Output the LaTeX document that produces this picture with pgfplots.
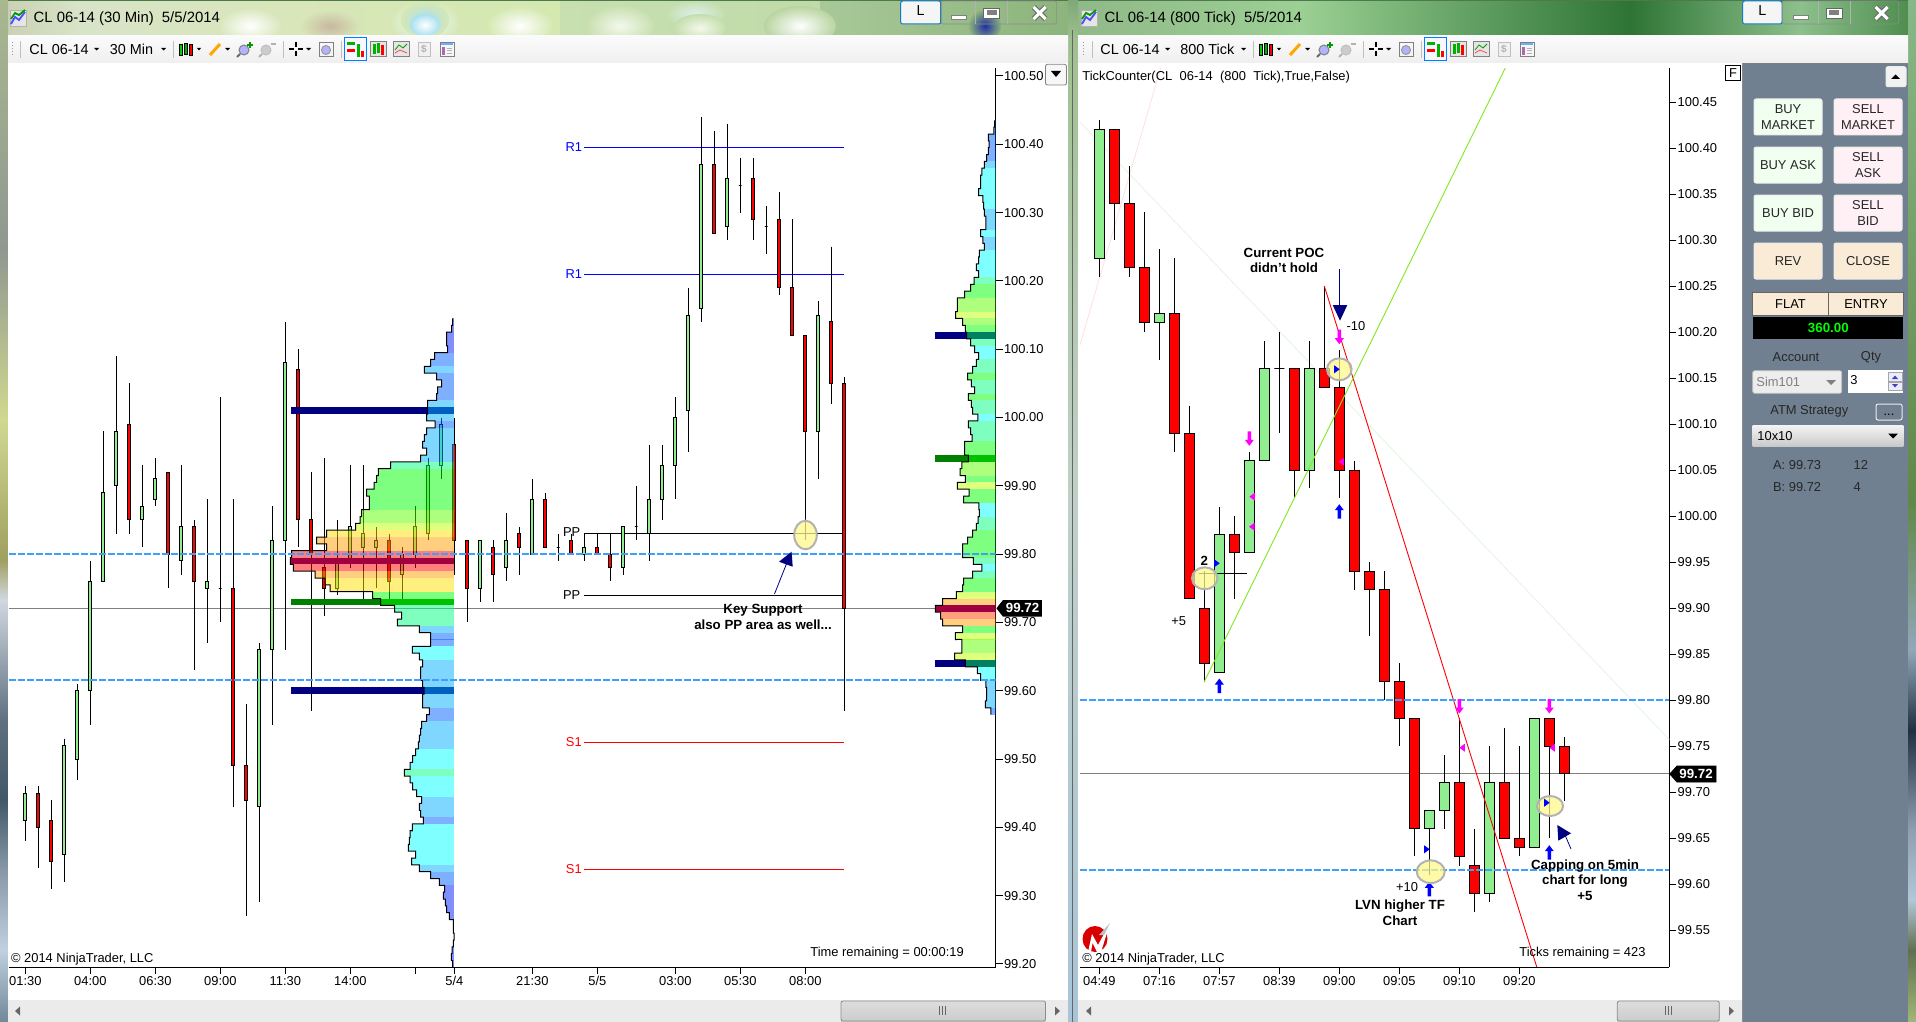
\documentclass[border=0pt]{standalone}
\usepackage{fontspec}
\setmainfont{Liberation Sans}
\usepackage{pgfplots}
\pgfplotsset{compat=1.18}
\newcommand\ft{\fontsize{6.45}{7.6}\selectfont}
\newcommand\ftb{\fontsize{6.65}{7.8}\selectfont\bfseries}
\newcommand\fti{\fontsize{7.2}{8.4}\selectfont}
\newcommand\ftt{\fontsize{7.45}{8.6}\selectfont}
\definecolor{cgreen}{HTML}{90EE90}
\definecolor{cred}{HTML}{FF0000}
\definecolor{pv}{HTML}{0020FF}\definecolor{pb}{HTML}{0060FF}\definecolor{pl}{HTML}{00B0FF}
\definecolor{pc}{HTML}{00FFFF}\definecolor{pt}{HTML}{00FF80}\definecolor{pg}{HTML}{00FF00}
\definecolor{ph}{HTML}{60FF00}\definecolor{py}{HTML}{C0FF00}\definecolor{pw}{HTML}{FFE000}
\definecolor{po}{HTML}{FFA000}\definecolor{ps}{HTML}{FF4000}\definecolor{pr}{HTML}{FF0000}
\definecolor{pocr}{HTML}{A00040}\definecolor{pocb}{HTML}{0060C0}\definecolor{pocg}{HTML}{00C000}\definecolor{pocd}{HTML}{008060}
\definecolor{navyb}{HTML}{000080}\definecolor{dgreen}{HTML}{008000}
\definecolor{dashc}{HTML}{3F9FFF}\definecolor{slate}{HTML}{708090}
\definecolor{bg}{HTML}{F0FFF0}\definecolor{bp}{HTML}{FFF0F5}\definecolor{bf}{HTML}{FAEBD7}
\definecolor{mag}{HTML}{FF00FF}\definecolor{lawn}{HTML}{80E820}
% candle: fill, index, bottom, top, high, low
\newcommand\Cn[6]{\pgfmathsetmacro\xc{\xo+\xs*#2}\pgfmathsetmacro\xa{\xc-\hw}\pgfmathsetmacro\xb{\xc+\hw}%
\edef\tmp{\noexpand\addplot[black,line width=.5pt] coordinates {(\xc,#5)(\xc,#6)};
\noexpand\addplot[fill=#1,draw=black,line width=.5pt] coordinates {(\xa,#3)(\xb,#3)(\xb,#4)(\xa,#4)} --cycle;}\tmp}
\newcommand\G[5]{\Cn{cgreen}{#1}{#3}{#2}{#4}{#5}}
\newcommand\Rd[5]{\Cn{cred}{#1}{#3}{#2}{#4}{#5}}
\newcommand\Dj[4]{\Cn{black}{#1}{#2}{#2}{#3}{#4}}
% profile rows: price, left edge as read, colour
\newcommand\Pf[3]{\pgfmathsetmacro\xl{\zo+#2/\zs}\pgfmathsetmacro\ya{#1-.005}\pgfmathsetmacro\yb{#1+.005}%
\edef\tmp{\noexpand\addplot[draw=none,fill=p#3,fill opacity=.5] coordinates {(\xl,\ya)(\pr,\ya)(\pr,\yb)(\xl,\yb)} --cycle;}\tmp
\xdef\outl{\outl(\xl,\yb)(\xl,\ya)}}
% special rows: price, left edge, row colour, bar start, bar colour
\newcommand\Po[5]{\pgfmathsetmacro\xl{\zo+#2/\zs}\pgfmathsetmacro\xst{\zo+#4/\zs}\pgfmathsetmacro\ya{#1-.005}\pgfmathsetmacro\yb{#1+.005}%
\edef\tmp{\noexpand\addplot[draw=none,fill=#3] coordinates {(\xl,\ya)(\pr,\ya)(\pr,\yb)(\xl,\yb)} --cycle;
\noexpand\addplot[draw=none,fill=#5] coordinates {(\xst,\ya)(\xl,\ya)(\xl,\yb)(\xst,\yb)} --cycle;}\tmp
\xdef\outl{\outl(\xl,\yb)(\xl,\ya)}}
\newcommand\Outline{\edef\tmp{\noexpand\addplot[black,line width=.5pt] coordinates {\outl};}\tmp\gdef\outl{}}
\gdef\outl{}
% chrome helpers
\newcommand\vs[6]{\definecolor{ca}{HTML}{#5}\definecolor{cb}{HTML}{#6}\shade[top color=ca,bottom color=cb] (#1,#3) rectangle (#2,#4);}
\newcommand\hs[6]{\definecolor{ca}{HTML}{#5}\definecolor{cb}{HTML}{#6}\shade[left color=ca,right color=cb] (#1,#3) rectangle (#2,#4);}
\newcommand\blob[6]{\definecolor{ca}{HTML}{#5}\definecolor{cb}{HTML}{#6}\shade[inner color=ca,outer color=cb] (#1,#2) ellipse (#3 and #4);}
\newcommand\Btn[6]{\filldraw[fill=#5,draw=white!85!gray,line width=.5pt,rounded corners=1pt] (#1,#2) rectangle (#3,#4);
\node[font=\ft,align=center,inner sep=0,text=black!85] at ({(#1+#3)/2},{(#2+#4)/2}) {#6};}
\newcommand\UpA[3]{\fill[#3,shift={(#1,#2)}] (0,-7.5)--(4.5,-1.5)--(1.8,-1.5)--(1.8,7)--(-1.8,7)--(-1.8,-1.5)--(-4.5,-1.5)--cycle;}
\newcommand\DnA[3]{\fill[#3,shift={(#1,#2)}] (0,7.5)--(4.5,1.5)--(1.8,1.5)--(1.8,-7)--(-1.8,-7)--(-1.8,1.5)--(-4.5,1.5)--cycle;}
\newcommand\TrR[2]{\fill[blue,shift={(#1,#2)}] (-2.5,-4)--(3,0)--(-2.5,4)--cycle;}
\newcommand\TrL[2]{\fill[mag,shift={(#1,#2)}] (2.5,-4)--(-3,0)--(2.5,4)--cycle;}
\newcommand\Circ[4]{\filldraw[shift={(#1,#2)},fill=yellow!45!white,fill opacity=.75,draw=black!30,line width=1pt] (0,0) ellipse (#3 and #4);}
\newcommand\Tool[1]{\begin{scope}[shift={(#1,0)}]
\foreach \yy in {42,45,48,51,54} \fill[black!40] (12,\yy) rectangle (13,\yy+1.5);
\end{scope}}
\newcommand\Icons[1]{\begin{scope}[shift={(#1,0)}]
\draw[black!25,line width=.5pt] (173.7,41)--(173.7,58) (283.5,41)--(283.5,58) (341.5,41)--(341.5,58);
\filldraw[fill=green!80!black,draw=black,line width=.3pt] (179,44) rectangle (182.5,55);
\filldraw[fill=green!70!black,draw=black,line width=.3pt] (184,43) rectangle (187,54);
\filldraw[fill=red,draw=black,line width=.3pt] (189,44) rectangle (192.5,55);
\fill[black] (197,48)--(201,48)--(199,50.5)--cycle;
\draw[orange!70!yellow,line width=1.5pt] (210,55)--(220,44);
\fill[black] (225,48)--(230,48)--(227.5,50.5)--cycle;
\filldraw[fill=blue!30,draw=black!50,line width=.5pt] (244,50) circle (5); \draw[black!60,line width=1pt] (240,54)--(237,57);
\draw[green!60!black,line width=1pt] (247,45)--(253,45) (250,42)--(250,48);
\filldraw[fill=black!20,draw=black!25,line width=.5pt] (266,50) circle (5); \draw[black!30,line width=1pt] (262,54)--(259,57);
\draw[black!30,line width=1pt] (271,44)--(276,44);
\draw[black,line width=1pt] (289,49.5)--(294,49.5) (298,49.5)--(303,49.5) (296,42.5)--(296,47.5) (296,51.5)--(296,56.5);
\fill[black] (306,48)--(311,48)--(308.5,50.5)--cycle;
\draw[black!50,line width=.4pt] (319,42) rectangle (333,56);
\filldraw[fill=blue!30,draw=black!40,line width=.5pt] (326,50) circle (4.5);
\filldraw[fill=blue!3,draw=blue!50!cyan,line width=.6pt] (344.6,37.3) rectangle (366.7,60.7);
\fill[green!70!black] (347,42) rectangle (355,45); \fill[red] (347,49) rectangle (355,52); \fill[green!70!black] (357,44) rectangle (360,57); \fill[red] (361,51) rectangle (364,57);
\filldraw[fill=black!10,draw=black!50,line width=.4pt] (370.5,41.5) rectangle (386,56.5);
\fill[green!70!black] (373,44) rectangle (375.5,54); \fill[green!70!black] (377,43) rectangle (379.5,53); \fill[red] (381,45) rectangle (383.5,55);
\filldraw[fill=black!10,draw=black!50,line width=.4pt] (393,41.5) rectangle (409,56.5);
\draw[green!60!black,line width=.4pt] (395,50)--(399,45)--(403,48)--(407,44); \draw[red!70,line width=.4pt] (395,53)--(400,50)--(407,53);
\filldraw[fill=black!6,draw=black!25,line width=.4pt] (418,42) rectangle (430,56);
\node[font=\fontsize{5}{5}\selectfont\bfseries,text=black!30,inner sep=0] at (424,49) {\$};
\filldraw[fill=black!3,draw=black!50,line width=.4pt] (440,42) rectangle (454,56);
\fill[blue!50!cyan!60] (441,43) rectangle (453,45.5); \fill[violet!60] (442,47) rectangle (445,55);
\draw[black!30,line width=.3pt] (447,48)--(452,48) (447,50.5)--(452,50.5) (447,53)--(452,53);
\end{scope}}
\newcommand\WinIcon[1]{\begin{scope}[shift={(#1,0)}]
\filldraw[fill=black!10,draw=black!30,line width=.4pt] (10,10) rectangle (26,26);
\draw[blue!70,line width=.9pt] (11,24)--(15,17)--(19,20)--(25,12);
\draw[green!60!black,line width=.9pt] (11,19)--(15,13)--(19,15)--(25,10);
\end{scope}}
\newcommand\Ctrls[5]{% L x1, L x2, min x, max x, close x
\filldraw[fill=black!4,draw=cyan!60!blue,line width=.5pt,rounded corners=1pt] (#1,1) rectangle (#2,24);
\node[font=\fti,inner sep=0] at ({(#1+#2)/2},11) {L};
\draw[black!45,line width=.3pt,rounded corners=1pt] (#2+.5,1) rectangle (#5+17,24);
\draw[black!30,line width=.3pt] ({#4-8},1)--({#4-8},24) ({#4+24},1)--({#4+24},24);
\filldraw[fill=white,draw=black!50,line width=.3pt] (#3,15.5) rectangle (#3+15,19);
\filldraw[fill=white,draw=black!60,line width=.4pt] (#4,8) rectangle (#4+16,18);
\fill[black!50] (#4+3,10.5) rectangle (#4+13,15.5);
\draw[black!60,line width=2.6pt] (#5-6,7)--(#5+6,19) (#5-6,19)--(#5+6,7);
\draw[white,line width=1.6pt] (#5-6,7)--(#5+6,19) (#5-6,19)--(#5+6,7);
}
\begin{document}
\begin{tikzpicture}[x=.5pt,y=-.5pt]
\useasboundingbox (0,0) rectangle (1916,1022);
\begin{scope}
\clip (0,0) rectangle (1916,1022);
% --- window frames
\fill[white] (0,0) rectangle (1916,1022);
\hs{0}{80}{0}{36}{C8D0B0}{D8E4C8}\hs{80}{300}{0}{36}{D8E4C8}{D8E6B8}\hs{300}{560}{0}{36}{D8E6B8}{D4E8B0}\hs{560}{820}{0}{36}{C8E0B0}{C0DAA8}\hs{820}{1070}{0}{36}{A8C898}{8CB47C}
\begin{scope}
\clip (0,0) rectangle (1070,35);
\blob{250}{26}{32}{18}{FFFFFF}{D8E6BC}
\blob{330}{26}{30}{16}{C8B8A0}{D8E6B8}
\blob{425}{22}{36}{22}{E8FFFF}{D6E7B4}
\blob{425}{20}{24}{18}{A8E0F0}{D6E7B4}
\blob{425}{25}{15}{11}{FFFFFF}{A8E0F0}
\blob{520}{26}{34}{20}{FFFFFF}{D4E8B0}
\blob{620}{26}{34}{20}{F4F8EC}{C8E0B0}
\blob{695}{14}{30}{14}{DCF0EC}{C4DEAC}
\blob{700}{28}{26}{14}{F4F8EC}{C4DEAC}
\blob{800}{26}{36}{20}{FFFFFF}{B8D4A0}
\blob{985}{26}{16}{16}{2030A0}{8CB47C}
\end{scope}
\hs{1070}{1300}{0}{36}{90B888}{9CD094}\hs{1300}{1500}{0}{36}{9CD094}{58985A}\hs{1500}{1630}{0}{36}{58985A}{2E7434}\hs{1630}{1800}{0}{36}{2E7434}{8CC08C}\hs{1800}{1916}{0}{36}{8CC08C}{4A8A4A}
\fill[black!55!green!40!gray] (0,0) rectangle (1916,1.2);
\vs{0}{8}{0}{250}{A8B890}{909890}\vs{0}{8}{250}{420}{909890}{D0D890}\vs{0}{8}{420}{560}{D0D890}{A0A060}\vs{0}{8}{560}{600}{A0A060}{D0D8E0}\vs{0}{8}{600}{720}{D0D8E0}{607080}\vs{0}{8}{720}{800}{607080}{405868}\vs{0}{8}{800}{870}{405868}{8898A8}\vs{0}{8}{870}{950}{8898A8}{C0D0E0}\vs{0}{8}{950}{1022}{C0D0E0}{708898}
\vs{1068}{1078}{0}{40}{7FA878}{A0C090}\vs{1068}{1078}{40}{500}{A0C090}{C0D0C8}\vs{1068}{1078}{500}{1022}{C0D0C8}{A8C4D8}
\fill[black!60] (1072.2,30) rectangle (1073,1022);
\vs{1908}{1916}{0}{500}{88B888}{608848}\vs{1908}{1916}{500}{650}{608848}{90A8B8}\vs{1908}{1916}{650}{730}{90A8B8}{203040}\vs{1908}{1916}{730}{830}{203040}{90A0B0}\vs{1908}{1916}{830}{900}{90A0B0}{B0C8D8}\vs{1908}{1916}{900}{950}{B0C8D8}{607050}\vs{1908}{1916}{950}{1022}{607050}{A0B878}
% white content
\fill[white] (8,35) rectangle (1068,1022);
\fill[white] (1078,35) rectangle (1908,1022);
\draw[black!55,line width=.4pt] (7.5,35)--(1068,35) (1078,35)--(1908,35);
\vs{8}{1068}{35.5}{63}{FBFBFB}{EFEFEF}\vs{1078}{1908}{35.5}{63}{FBFBFB}{EFEFEF}
\fill[black!8] (8,1000) rectangle (1068,1022);\fill[black!8] (1078,1000) rectangle (1742,1022);
\vs{841}{1045.5}{1001}{1021}{DDDDDD}{CCCCCC}\draw[black!45,line width=.4pt,rounded corners=1pt] (841,1001) rectangle (1045.5,1021);
\vs{1617.3}{1719.3}{1001}{1021}{DDDDDD}{CCCCCC}\draw[black!45,line width=.4pt,rounded corners=1pt] (1617.3,1001) rectangle (1719.3,1021);
\draw[black!60,line width=.5pt] (939,1006)--(939,1015) (942,1006)--(942,1015) (945,1006)--(945,1015) (1665,1006)--(1665,1015) (1668,1006)--(1668,1015) (1671,1006)--(1671,1015);
\fill[black!60] (15,1011)--(20,1006.5)--(20,1015.5)--cycle;
\fill[black!60] (1086,1011)--(1091,1006.5)--(1091,1015.5)--cycle;
\fill[black!60] (1060,1011)--(1055,1006.5)--(1055,1015.5)--cycle;
\fill[black!60] (1734,1011)--(1729,1006.5)--(1729,1015.5)--cycle;
% toolbars
\Tool{0}\Tool{1071}
\draw[black!25,line width=.5pt] (20.7,41)--(20.7,58) (1092,41)--(1092,58);
\node[font=\fti,anchor=west,inner sep=0] at (29,49.5) {CL 06-14};
\fill[black] (94,48)--(99,48)--(96.5,50.5)--cycle;
\node[font=\fti,anchor=west,inner sep=0] at (109.5,49.5) {30 Min};
\fill[black] (161,48)--(166,48)--(163.5,50.5)--cycle;
\node[font=\fti,anchor=west,inner sep=0] at (1100,49.5) {CL 06-14};
\fill[black] (1165,48)--(1170,48)--(1167.5,50.5)--cycle;
\node[font=\fti,anchor=west,inner sep=0] at (1180,49.5) {800 Tick};
\fill[black] (1241,48)--(1246,48)--(1243.5,50.5)--cycle;
\Icons{0}\Icons{1080}
\WinIcon{0}\WinIcon{1071}
\node[font=\ftt,anchor=west,inner sep=0] at (33.3,19) {CL 06-14 (30 Min)\hspace{.55em}5/5/2014};
\node[font=\ftt,anchor=west,inner sep=0] at (1104.3,19) {CL 06-14 (800 Tick)\hspace{.55em}5/5/2014};
\Ctrls{900.7}{940.7}{951.6}{983.6}{1039.6}
\Ctrls{1742.7}{1782}{1793.5}{1826}{1881.7}
% right panel
\fill[black!45] (1742,63) rectangle (1743,1022);
\fill[slate] (1743,63.5) rectangle (1908,1022);
\draw[black!50,line width=.4pt] (1743,63.5)--(1908,63.5);
\Btn{1886}{66.7}{1906}{86.7}{black!5}{}
\fill[black] (1891,79)--(1900,79)--(1895.5,74.5)--cycle;
\Btn{1754}{99}{1822}{135}{bg}{BUY\\MARKET}\Btn{1834}{99}{1902}{135}{bp}{SELL\\MARKET}
\Btn{1754}{147}{1822}{183}{bg}{BUY ASK}\Btn{1834}{147}{1902}{183}{bp}{SELL\\ASK}
\Btn{1754}{195}{1822}{231}{bg}{BUY BID}\Btn{1834}{195}{1902}{231}{bp}{SELL\\BID}
\Btn{1754}{243}{1822}{279}{bf}{REV}\Btn{1834}{243}{1902}{279}{bf}{CLOSE}
\filldraw[fill=bf,draw=black!60,line width=.3pt] (1752.7,292.7) rectangle (1828.3,315);
\filldraw[fill=bf,draw=black!60,line width=.3pt] (1828.3,292.7) rectangle (1903.3,315);
\node[font=\ft,inner sep=0] at (1790.5,304) {FLAT};\node[font=\ft,inner sep=0] at (1866,304) {ENTRY};
\fill[black] (1752.7,316.7) rectangle (1903.3,339.3);
\node[font=\ftb,text=green,inner sep=0] at (1828.3,328) {360.00};
\node[font=\ft,inner sep=0,text=black!85] at (1796,357.3) {Account};\node[font=\ft,inner sep=0,text=black!85] at (1871,357.3) {Qty};
\filldraw[fill=black!7,draw=black!25,line width=.4pt,rounded corners=1pt] (1752.7,370.7) rectangle (1841.7,393.3);
\node[font=\ft,anchor=west,inner sep=0,text=black!50] at (1756,382) {Sim101};
\fill[black!50] (1826,380)--(1836,380)--(1831,385)--cycle;
\fill[white] (1848.3,370) rectangle (1903.3,392.7);
\node[font=\ft,anchor=west,inner sep=0] at (1850,380) {3};
\filldraw[fill=blue!8,draw=black!35,line width=.3pt] (1888,372.5) rectangle (1902,381);\filldraw[fill=blue!8,draw=black!35,line width=.3pt] (1888,382) rectangle (1902,390.5);
\fill[blue!50!gray] (1892,379)--(1898,379)--(1895,375.5)--cycle;\fill[blue!50!gray] (1892,384)--(1898,384)--(1895,387.5)--cycle;
\node[font=\ft,inner sep=0,text=black!85] at (1809.3,411.3) {ATM Strategy};
\filldraw[fill=slate,draw=white!85!gray,line width=.5pt,rounded corners=1pt] (1876,404) rectangle (1902,420);
\node[font=\ft,inner sep=0] at (1889,415) {...};
\vs{1752.7}{1903.3}{425}{446.7}{F4F4F4}{C8C8C8}
\node[font=\ft,anchor=west,inner sep=0] at (1757,436) {10x10};
\fill[black] (1888,433.5)--(1898,433.5)--(1893,438.5)--cycle;
\node[font=\ft,anchor=west,inner sep=0,text=black!85] at (1772.7,465) {A: 99.73};\node[font=\ft,anchor=west,inner sep=0,text=black!85] at (1853.3,465) {12};
\node[font=\ft,anchor=west,inner sep=0,text=black!85] at (1772.7,487.3) {B: 99.72};\node[font=\ft,anchor=west,inner sep=0,text=black!85] at (1853.3,487.3) {4};
\end{scope}

% ===================== LEFT CHART
\begin{axis}[name=lft,at={(4.5pt,-483.5pt)},anchor=south west,scale only axis,width=493.3pt,height=449.5pt,
 xmin=9,xmax=995.6,ymin=99.1955,ymax=100.5117,
 axis x line*=bottom,axis y line*=right,axis line style={line width=.5pt},
 tick align=outside,major tick length=3.5pt,tick style={black,line width=.5pt},
 xtick={25.3,90.3,155.3,220.3,285.3,350.3,415.3,454.3,532.3,597.3,675.3,740.3,805.3},
 xticklabels={01:30,04:00,06:30,09:00,11:30,14:00,,5/4,21:30,5/5,03:00,05:30,08:00},
 ytick={99.2,99.3,99.4,99.5,99.6,99.7,99.8,99.9,100,100.1,100.2,100.3,100.4,100.5},
 yticklabel style={/pgf/number format/.cd,fixed,fixed zerofill,precision=2,assume math mode=true,1000 sep={}},
 every tick label/.append style={font=\ft,inner sep=.5pt},
 xticklabel style={yshift=-.5pt},
]
\def\xo{25.3}\def\xs{13}\def\hw{1.4}
\addplot[black!50,line width=.5pt] coordinates {(9,99.72)(995.6,99.72)};
\addplot[blue,line width=.5pt] coordinates {(584,100.395)(844,100.395)};
\addplot[blue,line width=.5pt] coordinates {(584,100.21)(844,100.21)};
\addplot[black,line width=.5pt] coordinates {(584,99.83)(844,99.83)};
\addplot[black,line width=.5pt] coordinates {(584,99.739)(844,99.739)};
\addplot[red,line width=.5pt] coordinates {(584,99.524)(844,99.524)};
\addplot[red,line width=.5pt] coordinates {(584,99.338)(844,99.338)};
\G{0}{99.45}{99.41}{99.46}{99.38}
\Rd{1}{99.45}{99.40}{99.46}{99.34}
\Rd{2}{99.41}{99.35}{99.44}{99.31}
\G{3}{99.52}{99.36}{99.53}{99.32}
\G{4}{99.60}{99.50}{99.61}{99.47}
\G{5}{99.76}{99.60}{99.79}{99.55}
\G{6}{99.89}{99.76}{99.98}{99.76}
\G{7}{99.98}{99.90}{100.09}{99.83}
\Rd{8}{99.99}{99.85}{100.05}{99.83}
\G{9}{99.87}{99.85}{99.93}{99.81}
\G{10}{99.91}{99.88}{99.94}{99.87}
\Rd{11}{99.92}{99.80}{99.92}{99.75}
\G{12}{99.84}{99.79}{99.93}{99.77}
\Rd{13}{99.84}{99.76}{99.85}{99.63}
\G{14}{99.76}{99.75}{99.88}{99.67}
\Dj{15}{99.75}{100.03}{99.70}
\Rd{16}{99.75}{99.49}{99.88}{99.43}
\Rd{17}{99.49}{99.44}{99.58}{99.27}
\G{18}{99.66}{99.43}{99.67}{99.29}
\G{19}{99.82}{99.66}{99.87}{99.55}
\G{20}{100.08}{99.82}{100.14}{99.66}
\Rd{21}{100.07}{99.85}{100.10}{99.81}
\Rd{22}{99.85}{99.80}{99.92}{99.57}
\Rd{23}{99.78}{99.75}{99.94}{99.71}
\G{24}{99.79}{99.75}{99.85}{99.74}
\G{25}{99.84}{99.79}{99.93}{99.78}
\G{26}{99.83}{99.81}{99.93}{99.73}
\G{27}{99.82}{99.81}{99.84}{99.75}
\Rd{28}{99.82}{99.76}{99.83}{99.73}
\G{29}{99.80}{99.77}{99.81}{99.73}
\G{30}{99.84}{99.80}{99.87}{99.78}
\G{31}{99.93}{99.83}{99.94}{99.82}
\G{32}{99.99}{99.93}{100.00}{99.91}
\Rd{33}{99.96}{99.82}{100.00}{99.77}
\Rd{34}{99.82}{99.75}{99.82}{99.70}
\G{35}{99.82}{99.75}{99.82}{99.73}
\Rd{36}{99.81}{99.77}{99.82}{99.73}
\G{37}{99.82}{99.78}{99.86}{99.76}
\Rd{38}{99.83}{99.81}{99.84}{99.77}
\G{39}{99.88}{99.80}{99.91}{99.80}
\Rd{40}{99.88}{99.81}{99.89}{99.81}
\Dj{41}{99.81}{99.83}{99.79}
\Rd{42}{99.82}{99.80}{99.83}{99.80}
\G{43}{99.81}{99.80}{99.83}{99.79}
\Rd{44}{99.81}{99.80}{99.83}{99.80}
\Rd{45}{99.80}{99.78}{99.83}{99.76}
\G{46}{99.84}{99.78}{99.84}{99.77}
\Dj{47}{99.84}{99.90}{99.82}
\G{48}{99.88}{99.83}{99.96}{99.79}
\G{49}{99.93}{99.88}{99.96}{99.85}
\G{50}{100.00}{99.93}{100.03}{99.88}
\G{51}{100.15}{100.01}{100.19}{99.95}
\G{52}{100.37}{100.16}{100.44}{100.14}
\Rd{53}{100.37}{100.27}{100.42}{100.27}
\G{54}{100.35}{100.28}{100.43}{100.26}
\Dj{55}{100.34}{100.38}{100.30}
\Rd{56}{100.35}{100.29}{100.38}{100.26}
\Dj{57}{100.28}{100.31}{100.24}
\Rd{58}{100.29}{100.19}{100.33}{100.18}
\Rd{59}{100.19}{100.12}{100.29}{100.12}
\Rd{60}{100.12}{99.98}{100.12}{99.82}
\G{61}{100.15}{99.98}{100.17}{99.91}
\Rd{62}{100.14}{100.05}{100.25}{100.02}
\Rd{63}{100.05}{99.72}{100.06}{99.57}
% session volume profile
\def\zo{0}\def\zs{3}\def\pr{454}
\Pf{100.14}{1358}{v}\Pf{100.13}{1355}{v}\Pf{100.12}{1340}{v}\Pf{100.11}{1340}{v}\Pf{100.10}{1343}{v}
\Pf{100.09}{1304}{b}\Pf{100.08}{1292}{b}\Pf{100.07}{1273}{l}\Pf{100.06}{1310}{b}\Pf{100.05}{1325}{b}
\Pf{100.04}{1313}{b}\Pf{100.03}{1310}{b}\Pf{100.02}{1283}{l}
\Po{100.01}{1283}{pocb}{873}{navyb}
\Pf{100.00}{1280}{l}\Pf{99.99}{1305}{b}\Pf{99.98}{1280}{l}\Pf{99.97}{1273}{l}\Pf{99.96}{1268}{l}\Pf{99.95}{1280}{l}\Pf{99.94}{1262}{l}
\Pf{99.93}{1172}{t}\Pf{99.92}{1135}{g}\Pf{99.91}{1130}{g}\Pf{99.90}{1122}{g}\Pf{99.89}{1100}{g}\Pf{99.88}{1108}{g}\Pf{99.87}{1108}{g}
\Pf{99.86}{1085}{h}\Pf{99.85}{1080}{h}\Pf{99.84}{1067}{y}\Pf{99.83}{980}{w}\Pf{99.82}{950}{o}\Pf{99.81}{980}{o}\Pf{99.80}{875}{r}
\Po{99.79}{871}{pocr}{871}{pocr}
\Pf{99.78}{880}{r}\Pf{99.77}{945}{o}\Pf{99.76}{975}{w}\Pf{99.75}{990}{w}\Pf{99.74}{1118}{g}
\Po{99.73}{1142}{pocg}{873}{dgreen}
\Pf{99.72}{1184}{t}\Pf{99.71}{1205}{t}\Pf{99.70}{1192}{t}\Pf{99.69}{1258}{l}\Pf{99.68}{1292}{b}\Pf{99.67}{1292}{b}
\Pf{99.66}{1237}{c}\Pf{99.65}{1258}{c}\Pf{99.64}{1268}{l}\Pf{99.63}{1262}{l}\Pf{99.62}{1262}{l}\Pf{99.61}{1268}{l}
\Po{99.60}{1272}{pocb}{873}{navyb}
\Pf{99.59}{1268}{l}\Pf{99.58}{1268}{l}\Pf{99.57}{1288}{b}\Pf{99.56}{1280}{b}\Pf{99.55}{1265}{l}\Pf{99.54}{1262}{l}\Pf{99.53}{1258}{l}\Pf{99.52}{1255}{l}
\Pf{99.51}{1247}{c}\Pf{99.50}{1238}{c}\Pf{99.49}{1230}{c}\Pf{99.48}{1213}{t}\Pf{99.47}{1230}{c}\Pf{99.46}{1238}{c}\Pf{99.45}{1250}{c}
\Pf{99.44}{1265}{l}\Pf{99.43}{1258}{l}\Pf{99.42}{1262}{l}\Pf{99.41}{1270}{b}
\Pf{99.40}{1237}{c}\Pf{99.39}{1230}{c}\Pf{99.38}{1228}{c}\Pf{99.37}{1225}{c}\Pf{99.36}{1247}{c}\Pf{99.35}{1235}{c}\Pf{99.34}{1258}{l}
\Pf{99.33}{1292}{b}\Pf{99.32}{1318}{b}\Pf{99.31}{1334}{v}\Pf{99.30}{1330}{v}\Pf{99.29}{1336}{v}\Pf{99.28}{1340}{v}\Pf{99.27}{1348}{v}
\Pf{99.26}{1360}{v}\Pf{99.25}{1360}{v}\Pf{99.24}{1362}{v}\Pf{99.23}{1360}{v}\Pf{99.22}{1356}{v}\Pf{99.21}{1354}{v}\Pf{99.20}{1358}{v}
\Outline
% current session profile
\def\zo{500}\def\zs{2.75}\def\pr{995.6}
\Pf{100.43}{1360}{b}\Pf{100.42}{1358}{b}\Pf{100.41}{1343}{b}\Pf{100.40}{1345}{b}\Pf{100.39}{1343}{b}\Pf{100.38}{1338}{b}\Pf{100.37}{1332}{l}
\Pf{100.36}{1325}{c}\Pf{100.35}{1322}{c}\Pf{100.34}{1322}{c}\Pf{100.33}{1316}{c}\Pf{100.32}{1328}{c}\Pf{100.31}{1330}{c}
\Pf{100.30}{1332}{l}\Pf{100.29}{1336}{l}\Pf{100.28}{1336}{l}\Pf{100.27}{1322}{c}\Pf{100.26}{1328}{l}\Pf{100.25}{1332}{l}
\Pf{100.24}{1318}{c}\Pf{100.23}{1316}{c}\Pf{100.22}{1310}{c}\Pf{100.21}{1316}{c}\Pf{100.20}{1304}{t}\Pf{100.19}{1294}{g}\Pf{100.18}{1278}{g}
\Pf{100.17}{1258}{h}\Pf{100.16}{1258}{h}\Pf{100.15}{1253}{y}\Pf{100.14}{1272}{h}\Pf{100.13}{1280}{g}
\Po{100.12}{1283}{pocd}{1197}{navyb}
\Pf{100.11}{1294}{t}\Pf{100.10}{1305}{c}\Pf{100.09}{1316}{c}\Pf{100.08}{1310}{t}\Pf{100.07}{1300}{t}\Pf{100.06}{1286}{g}\Pf{100.05}{1296}{t}\Pf{100.04}{1305}{t}
\Pf{100.03}{1288}{g}\Pf{100.02}{1296}{t}\Pf{100.01}{1300}{t}\Pf{100.00}{1314}{c}\Pf{99.99}{1288}{t}\Pf{99.98}{1294}{t}\Pf{99.97}{1298}{t}\Pf{99.96}{1278}{g}\Pf{99.95}{1278}{g}
\Po{99.94}{1288}{pocg}{1197}{dgreen}
\Pf{99.93}{1270}{h}\Pf{99.92}{1265}{h}\Pf{99.91}{1280}{g}\Pf{99.90}{1258}{y}\Pf{99.89}{1290}{g}\Pf{99.88}{1275}{g}
\Pf{99.87}{1317}{c}\Pf{99.86}{1318}{c}\Pf{99.85}{1315}{t}\Pf{99.84}{1310}{t}\Pf{99.83}{1300}{g}\Pf{99.82}{1286}{g}\Pf{99.81}{1272}{g}\Pf{99.80}{1272}{g}
\Pf{99.79}{1302}{t}\Pf{99.78}{1325}{c}\Pf{99.77}{1300}{t}\Pf{99.76}{1275}{g}\Pf{99.75}{1272}{g}\Pf{99.74}{1255}{y}\Pf{99.73}{1217}{o}
\Po{99.72}{1197}{pocr}{1197}{pocr}
\Pf{99.71}{1212}{s}\Pf{99.70}{1217}{o}\Pf{99.69}{1272}{g}\Pf{99.68}{1252}{y}\Pf{99.67}{1270}{h}\Pf{99.66}{1270}{h}\Pf{99.65}{1250}{y}
\Po{99.64}{1280}{pocd}{1197}{navyb}
\Pf{99.63}{1313}{c}\Pf{99.62}{1322}{c}\Pf{99.61}{1336}{l}\Pf{99.60}{1338}{l}\Pf{99.59}{1338}{l}\Pf{99.58}{1335}{l}\Pf{99.57}{1350}{b}
\Outline
\addplot[dashc,line width=1pt,dash pattern=on 3.5pt off 1pt] coordinates {(9,99.80)(995.6,99.80)};
\addplot[dashc,line width=1pt,dash pattern=on 3.5pt off 1pt] coordinates {(9,99.616)(995.6,99.616)};
\end{axis}

% ===================== RIGHT CHART
\begin{axis}[name=rgt,at={(540pt,-483.5pt)},anchor=south west,scale only axis,width=294.65pt,height=449.5pt,
 xmin=1080,xmax=1669.3,ymin=99.5098,ymax=100.487,
 axis x line*=bottom,axis y line*=right,axis line style={line width=.5pt},
 tick align=outside,major tick length=3.5pt,tick style={black,line width=.5pt},
 xtick={1099.3,1159.3,1219.3,1279.3,1339.3,1399.3,1459.3,1519.3},
 xticklabels={04:49,07:16,07:57,08:39,09:00,09:05,09:10,09:20},
 ytick={99.55,99.6,99.65,99.7,99.75,99.8,99.85,99.9,99.95,100,100.05,100.1,100.15,100.2,100.25,100.3,100.35,100.4,100.45},
 yticklabel style={/pgf/number format/.cd,fixed,fixed zerofill,precision=2,assume math mode=true,1000 sep={}},
 every tick label/.append style={font=\ft,inner sep=.5pt},
 xticklabel style={yshift=-.5pt},
]
\def\xo{1099.3}\def\xs{15}\def\hw{5}
\addplot[black!50,line width=.5pt] coordinates {(1080,99.72)(1669.3,99.72)};
\addplot[red!12,line width=.4pt] coordinates {(1080,100.186)(1160.7,100.487)};
\addplot[green!60!black!10,line width=.4pt] coordinates {(1080,100.428)(1669.3,99.757)};
\G{0}{100.42}{100.28}{100.43}{100.26}
\Rd{1}{100.42}{100.34}{100.42}{100.30}
\Rd{2}{100.34}{100.27}{100.38}{100.26}
\Rd{3}{100.27}{100.21}{100.33}{100.20}
\G{4}{100.22}{100.21}{100.29}{100.17}
\Rd{5}{100.22}{100.09}{100.28}{100.07}
\Rd{6}{100.09}{99.91}{100.12}{99.91}
\Rd{7}{99.90}{99.84}{99.94}{99.82}
\G{8}{99.98}{99.83}{100.01}{99.83}
\Rd{9}{99.98}{99.96}{100.00}{99.91}
\G{10}{100.06}{99.96}{100.07}{99.96}
\G{11}{100.16}{100.06}{100.19}{100.06}
\Dj{12}{100.16}{100.20}{100.09}
\Rd{13}{100.16}{100.05}{100.16}{100.02}
\G{14}{100.16}{100.05}{100.19}{100.03}
\Rd{15}{100.16}{100.14}{100.25}{100.14}
\Rd{16}{100.14}{100.05}{100.18}{100.02}
\Rd{17}{100.05}{99.94}{100.06}{99.92}
\Rd{18}{99.94}{99.92}{99.95}{99.87}
\Rd{19}{99.92}{99.82}{99.94}{99.80}
\Rd{20}{99.82}{99.78}{99.84}{99.75}
\Rd{21}{99.78}{99.66}{99.78}{99.63}
\G{22}{99.68}{99.66}{99.68}{99.61}
\G{23}{99.71}{99.68}{99.74}{99.66}
\Rd{24}{99.71}{99.63}{99.78}{99.62}
\Rd{25}{99.62}{99.59}{99.66}{99.57}
\G{26}{99.71}{99.59}{99.75}{99.58}
\Rd{27}{99.71}{99.65}{99.77}{99.65}
\Rd{28}{99.65}{99.64}{99.75}{99.63}
\G{29}{99.78}{99.64}{99.78}{99.64}
\Rd{30}{99.78}{99.75}{99.78}{99.65}
\Rd{31}{99.75}{99.72}{99.76}{99.69}
\addplot[red,line width=.45pt] coordinates {(1324.3,100.25)(1536.7,99.51)};
\addplot[lawn,line width=.45pt] coordinates {(1204.3,99.82)(1505.3,100.487)};
\addplot[dashc,line width=1pt,dash pattern=on 3.5pt off 1pt] coordinates {(1080,99.80)(1669.3,99.80)};
\addplot[dashc,line width=1pt,dash pattern=on 3.5pt off 1pt] coordinates {(1080,99.615)(1669.3,99.615)};
\end{axis}

% ===================== annotations, left chart
\node[font=\ft,text=blue,inner sep=0] at (573.8,147.3) {R1};
\node[font=\ft,text=blue,inner sep=0] at (573.8,274.3) {R1};
\node[font=\ft,text=black,inner sep=0] at (571.6,532) {PP};
\node[font=\ft,text=black,inner sep=0] at (571.6,595) {PP};
\node[font=\ft,text=red,inner sep=0] at (573.8,742) {S1};
\node[font=\ft,text=red,inner sep=0] at (573.8,869) {S1};
\Circ{805.5}{535}{11.3}{14.3}
\draw[navyb,line width=.4pt] (774.5,594)--(788,560);
\fill[navyb] (791.6,551.7)--(779,561.7)--(792.7,566.7)--cycle;
\node[font=\ftb,inner sep=0] at (763,610) {Key Support};
\node[font=\ftb,inner sep=0] at (763,625) {also PP area as well...};
\node[font=\ft,anchor=west,inner sep=0] at (810,953) {Time remaining = 00:00:19};
\node[font=\ft,anchor=west,inner sep=0] at (10.7,959) {\char"00A9{} 2014 NinjaTrader, LLC};
\filldraw[fill=black!3,draw=black!50,line width=.4pt,rounded corners=1pt] (1045.5,64.3) rectangle (1066.5,85);
\fill[black] (1051,71)--(1061,71)--(1056,77)--cycle;
\fill[black] (996.4,608.3)--(1003,600)--(1041.8,600)--(1041.8,616.7)--(1003,616.7)--cycle;
\node[font=\ftb,text=white,inner sep=0] at (1022.5,608.3) {99.72};
% ===================== annotations, right chart
\node[font=\ft,anchor=west,inner sep=0] at (1082,76.7) {TickCounter(CL\hspace{.3em} 06-14\hspace{.3em} (800\hspace{.3em} Tick),True,False)};
\filldraw[fill=white,draw=black,line width=.4pt] (1725.3,65.7) rectangle (1740.7,80.7);
\node[font=\ft,inner sep=0] at (1733,73.2) {F};
\node[font=\ftb,inner sep=0] at (1284,253) {Current POC};
\node[font=\ftb,inner sep=0] at (1284,268) {didn't hold};
\draw[navyb,line width=.4pt] (1339.7,269.3)--(1339.7,306);
\fill[navyb] (1332.7,305)--(1347.3,305)--(1340,320.7)--cycle;
\node[font=\ft,inner sep=0] at (1356,326) {-10};
\DnA{1339.3}{336.7}{mag}\DnA{1249.3}{438.3}{mag}\DnA{1459.3}{706}{mag}\DnA{1549.3}{706}{mag}
\UpA{1219.3}{686}{blue}\UpA{1339.3}{511.7}{blue}\UpA{1429.3}{889.3}{blue}\UpA{1549.3}{852.7}{blue}
\draw[black,line width=.4pt] (1199.3,573.3)--(1246.7,573.3);
\Circ{1339.3}{369.3}{12.3}{11}\Circ{1204.7}{578.3}{12.7}{11}\Circ{1430.7}{871.7}{14}{11.3}\Circ{1550}{806}{13}{10}
\TrR{1336.7}{369.3}\TrR{1216.7}{563.3}\TrR{1426.7}{849.3}\TrR{1546.7}{802.7}
\TrL{1341.7}{461.7}\TrL{1252.3}{496.7}\TrL{1252}{526.7}\TrL{1462.3}{747.7}\TrL{1552.3}{747.7}
\node[font=\ftb,inner sep=0] at (1204.3,561) {2};
\node[font=\ft,inner sep=0] at (1178.7,621) {+5};
\node[font=\ft,inner sep=0] at (1407,887.3) {+10};
\node[font=\ftb,inner sep=0] at (1400,906) {LVN higher TF};
\node[font=\ftb,inner sep=0] at (1400,921) {Chart};
\node[font=\ftb,inner sep=0] at (1585,866) {Capping on 5min};
\node[font=\ftb,inner sep=0] at (1585,881) {chart for long};
\node[font=\ftb,inner sep=0] at (1585,895.5) {+5};
\draw[navyb,line width=.4pt] (1565,835)--(1571,849);
\fill[navyb] (1557.3,825)--(1571,833.3)--(1558.3,840.7)--cycle;
\node[font=\ft,anchor=west,inner sep=0] at (1519,953) {Ticks remaining = 423};
\node[font=\ft,anchor=west,inner sep=0] at (1082,959) {\char"00A9{} 2014 NinjaTrader, LLC};
\fill[red!85!black] (1095,939) ellipse (12.5 and 13);
\fill[white] (1088,952)--(1092,934)--(1098,945)--(1110,923)--(1101,952)--(1097,952)--(1092.5,943)--(1091,952)--cycle;
\fill[black!25] (1099,935)--(1110,923)--(1104,935)--cycle;
\filldraw[fill=black,draw=black] (1669.8,774)--(1677,766)--(1716,766)--(1716,782)--(1677,782)--cycle;
\node[font=\ftb,text=white,inner sep=0] at (1696,774) {99.72};
\end{tikzpicture}
\end{document}
